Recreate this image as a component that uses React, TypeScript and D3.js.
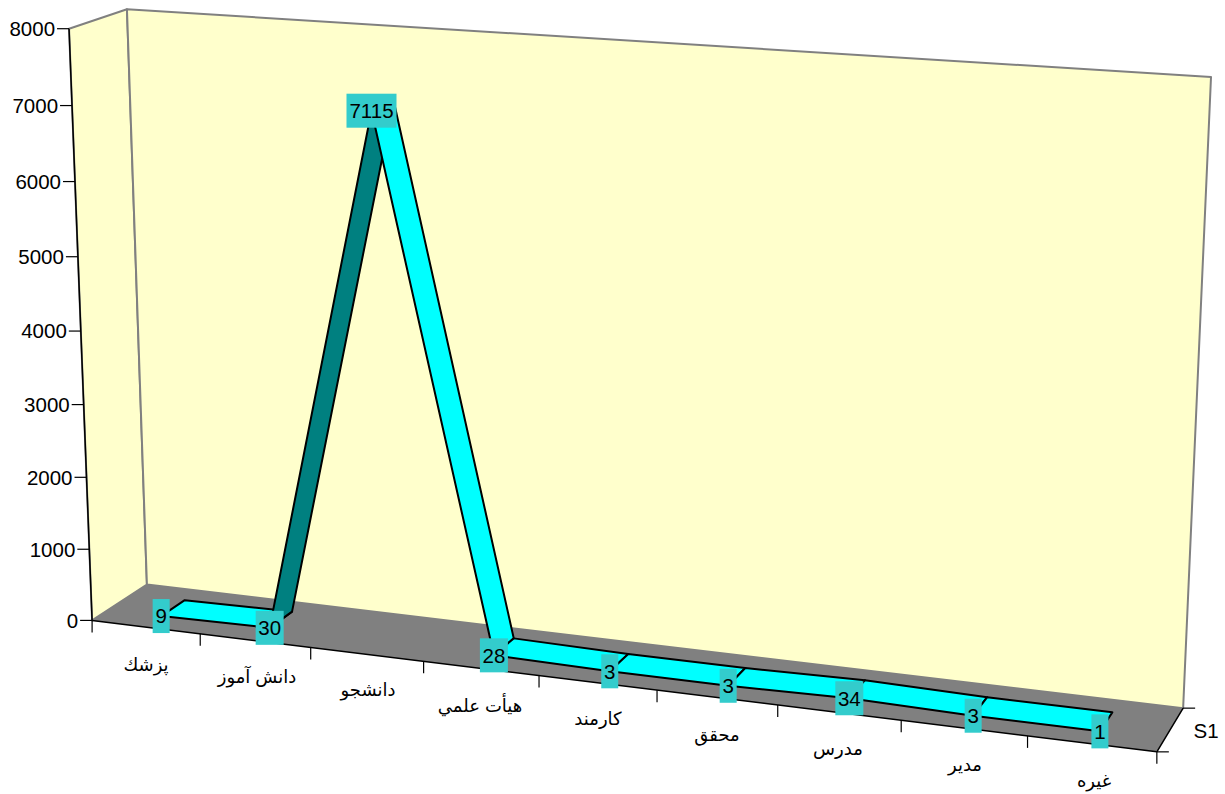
import React from "react";
import * as d3 from "d3";

const categories = ["پزشك", "دانش آموز", "دانشجو", "هيأت علمي", "كارمند", "محقق", "مدرس", "مدير", "غيره"];
const values = [9, 30, 7115, 28, 3, 3, 34, 3, 1];
const valueTicks = [0, 1000, 2000, 3000, 4000, 5000, 6000, 7000, 8000];
const seriesName = "S1";
const labelCenters = [
  [146, 665], [257, 677], [368, 690], [480, 706], [598, 719], [717, 735], [838, 749], [965, 765], [1094, 781],
];

const FONT = '"Liberation Sans", Arial, "DejaVu Sans", sans-serif';
const RIBBON_FRONT = 0.28;
const RIBBON_BACK = 0.72;

// Known box corners: [u, v, w] -> [x, y]
const corners: [number[], number[]][] = [
  [[0, 0, 0], [92, 620]],
  [[1, 0, 0], [1157, 752]],
  [[0, 0, 1], [147, 585]],
  [[1, 0, 1], [1183, 708]],
  [[0, 1, 0], [69, 29]],
  [[0, 1, 1], [127, 9]],
  [[1, 1, 1], [1211, 77]],
];

function solveCamera(): number[] {
  const rows: number[][] = [];
  const rhs: number[] = [];
  for (const [[u, v, w], [x, y]] of corners) {
    rows.push([u, v, w, 1, 0, 0, 0, 0, -x * u, -x * v, -x * w]);
    rhs.push(x);
    rows.push([0, 0, 0, 0, u, v, w, 1, -y * u, -y * v, -y * w]);
    rhs.push(y);
  }
  const n = 11;
  const m: number[][] = d3.range(n).map((i) => [
    ...d3.range(n).map((j) => d3.sum(rows, (r) => r[i] * r[j])),
    d3.sum(rows, (r, k) => r[i] * rhs[k]),
  ]);
  for (let c = 0; c < n; c++) {
    let p = c;
    for (let r = c + 1; r < n; r++) if (Math.abs(m[r][c]) > Math.abs(m[p][c])) p = r;
    [m[c], m[p]] = [m[p], m[c]];
    for (let r = 0; r < n; r++) {
      if (r === c) continue;
      const f = m[r][c] / m[c][c];
      for (let k = c; k <= n; k++) m[r][k] -= f * m[c][k];
    }
  }
  return d3.range(n).map((i) => m[i][n] / m[i][i]);
}

const cam = solveCamera();
const project = (u: number, v: number, w: number): [number, number] => {
  const d = cam[8] * u + cam[9] * v + cam[10] * w + 1;
  return [
    (cam[0] * u + cam[1] * v + cam[2] * w + cam[3]) / d,
    (cam[4] * u + cam[5] * v + cam[6] * w + cam[7]) / d,
  ];
};

const uBand = d3.scaleBand<number>().domain(d3.range(categories.length)).range([0, 1]);
const uMid = (i: number) => (uBand(i) as number) + uBand.bandwidth() / 2;
const vScale = d3.scaleLinear().domain([0, 8000]).range([0, 1]);
const poly = d3.line<[number, number]>().curve(d3.curveLinearClosed);
const seg = (a: [number, number], b: [number, number]) => poly([a, b]) as string;
const pts = (...p: [number, number][]) => poly(p) as string;

export default function App() {
  React.useEffect(() => {
    document.body.style.margin = "0";
  }, []);
  const wallEdge = { stroke: "#808080", strokeWidth: 2, strokeLinejoin: "round" as const };
  const A = project(0, 0, 0), B = project(1, 0, 0), C = project(0, 0, 1), D = project(1, 0, 1);
  const E = project(0, 1, 0), F = project(0, 1, 1), G = project(1, 1, 1);

  const segments = d3.range(values.length - 1).map((i) => {
    const a1 = project(uMid(i), vScale(values[i]), RIBBON_FRONT);
    const a2 = project(uMid(i + 1), vScale(values[i + 1]), RIBBON_FRONT);
    const b2 = project(uMid(i + 1), vScale(values[i + 1]), RIBBON_BACK);
    const b1 = project(uMid(i), vScale(values[i]), RIBBON_BACK);
    const area = d3.polygonArea([a1, a2, b2, b1]);
    return { d: pts(a1, a2, b2, b1), fill: area > 0 ? "#00FFFF" : "#008080" };
  });

  return (
    <svg width={1225} height={794} style={{ position: "fixed", left: 0, top: 0, display: "block" }} fontFamily={FONT}>
      <rect width={1225} height={794} fill="#fff" />
      <path d={pts(A, E, F, C)} fill="#FFFFCC" {...wallEdge} />
      <path d={pts(C, F, G, D)} fill="#FFFFCC" {...wallEdge} />
      <path d={pts(A, B, D, C)} fill="#808080" />

      {/* value axis */}
      <path d={seg(A, E)} stroke="#000" strokeWidth={1.5} fill="none" />
      {valueTicks.map((t) => {
        const [x, y] = project(0, vScale(t), 0);
        return (
          <g key={t}>
            <line x1={x - 12} x2={x} y1={y} y2={y} stroke="#000" strokeWidth={1.2} />
            <text x={x - 14} y={y} dy="0.36em" textAnchor="end" fontSize={20.5}>{t}</text>
          </g>
        );
      })}

      {/* category axis */}
      <path d={seg(A, B)} stroke="#000" strokeWidth={1.5} fill="none" />
      {d3.range(categories.length + 1).map((i) => {
        const [x, y] = project(i / categories.length, 0, 0);
        return <line key={i} x1={x} x2={x} y1={y} y2={y + 12} stroke="#000" strokeWidth={1.2} />;
      })}
      {categories.map((c, i) => (
        <text key={c} x={labelCenters[i][0]} y={labelCenters[i][1]} dy="0.36em" textAnchor="middle" fontSize={18} direction="rtl" style={{ unicodeBidi: "plaintext" } as any}>{c}</text>
      ))}

      {/* depth axis */}
      <path d={seg(B, D)} stroke="#000" strokeWidth={1.5} fill="none" />
      <line x1={B[0]} x2={B[0] + 12} y1={B[1]} y2={B[1]} stroke="#000" strokeWidth={1.2} />
      <line x1={D[0]} x2={D[0] + 12} y1={D[1]} y2={D[1]} stroke="#000" strokeWidth={1.2} />
      <text x={(B[0] + D[0]) / 2 + 36} y={(B[1] + D[1]) / 2 + 1} dy="0.36em" textAnchor="middle" fontSize={20.5}>{seriesName}</text>

      {/* ribbon */}
      {segments.map((s, i) => (
        <path key={i} d={s.d} fill={s.fill} stroke="#000" strokeWidth={2} strokeLinejoin="round" />
      ))}

      {/* data labels */}
      {values.map((val, i) => {
        const [x, y] = project(uMid(i), vScale(val), RIBBON_FRONT);
        const label = String(val);
        const w = label.length * 11 + 6;
        return (
          <g key={i}>
            <rect x={x - w / 2} y={y - 17} width={w} height={34} fill="#33CCCC" />
            <text x={x} y={y} dy="0.36em" textAnchor="middle" fontSize={20.5}>{label}</text>
          </g>
        );
      })}
    </svg>
  );
}
